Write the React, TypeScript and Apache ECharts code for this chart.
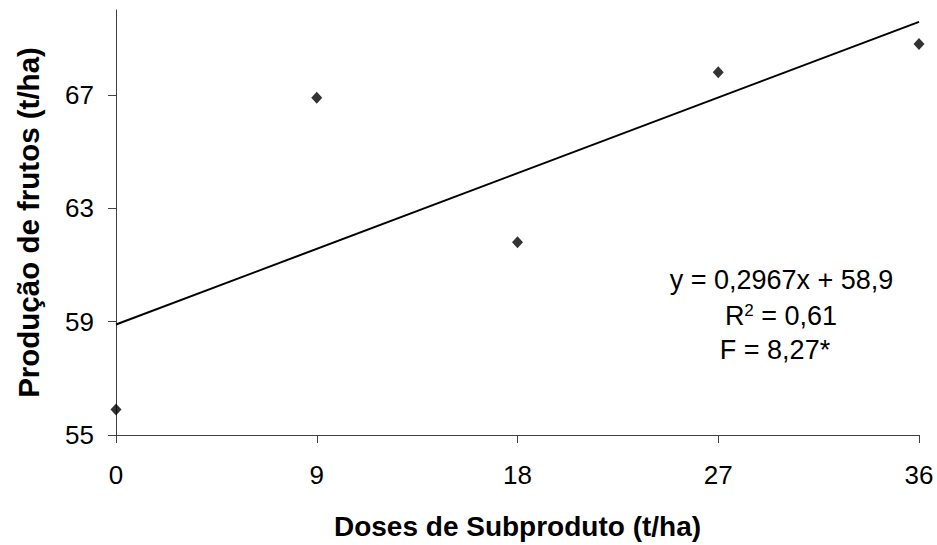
import React, { useEffect, useRef } from "react";
import * as echarts from "echarts";

const doses = [0, 9, 18, 27, 36];
const producao = [55.9, 66.9, 61.8, 67.8, 68.8];
const xTicks = [0, 9, 18, 27, 36];
const yTicks = [55, 59, 63, 67];
const slope = 0.2967;
const intercept = 58.9;
const trendX = [0, 36];
const eqLines = ["y = 0,2967x + 58,9", "R{sup|2} = 0,61", "F = 8,27*"];

const FONT = "'Liberation Sans', Arial, Helvetica, sans-serif";

export default function App() {
  const ref = useRef<HTMLDivElement>(null);
  useEffect(() => {
    if (!ref.current) return;
    const chart = echarts.init(ref.current, null, { renderer: "svg" });
    const trendData = trendX.map((x) => [x, +(intercept + slope * x).toFixed(3)]);
    const eqStyle = { fontFamily: FONT, fontSize: 27, fill: "#000", align: "center", verticalAlign: "middle" };
    chart.setOption({
      animation: false,
      backgroundColor: "#ffffff",
      textStyle: { fontFamily: FONT },
      grid: { left: 116, right: 18, top: 10, bottom: 107, containLabel: false },
      xAxis: {
        type: "value",
        min: 0,
        max: 36,
        interval: 9,
        name: "Doses de Subproduto (t/ha)",
        nameLocation: "middle",
        nameGap: 77,
        nameTextStyle: { fontFamily: FONT, fontSize: 28, fontWeight: "bold", color: "#000" },
        axisLine: { show: true, onZero: false, lineStyle: { color: "#404040", width: 1 } },
        axisTick: { show: true, inside: false, length: 8, lineStyle: { color: "#404040" }, customValues: xTicks },
        axisLabel: { fontFamily: FONT, fontSize: 26, color: "#000", margin: 27, customValues: xTicks },
        splitLine: { show: false },
      },
      yAxis: {
        type: "value",
        min: 55,
        max: 70,
        interval: 4,
        name: "Produção de frutos (t/ha)",
        nameLocation: "middle",
        nameGap: 73,
        nameRotate: 90,
        nameTextStyle: { fontFamily: FONT, fontSize: 29.5, fontWeight: "bold", color: "#000" },
        axisLine: { show: true, onZero: false, lineStyle: { color: "#404040", width: 1 } },
        axisTick: { show: true, inside: false, length: 8, lineStyle: { color: "#404040" }, customValues: yTicks },
        axisLabel: { fontFamily: FONT, fontSize: 26, color: "#000", margin: 22, customValues: yTicks },
        splitLine: { show: false },
      },
      series: [
        {
          type: "line",
          data: trendData,
          symbol: "none",
          lineStyle: { color: "#000", width: 2 },
          silent: true,
          z: 2,
        },
        {
          type: "scatter",
          data: doses.map((d, i) => [d, producao[i]]),
          symbol: "diamond",
          symbolSize: [11, 12],
          itemStyle: { color: "#000" },
          z: 3,
        },
      ],
      graphic: [
        {
          type: "text",
          x: 781.5,
          y: 280,
          style: { text: eqLines[0], ...eqStyle },
        },
        {
          type: "text",
          x: 781,
          y: 316,
          style: {
            text: eqLines[1],
            ...eqStyle,
            rich: {
              sup: { fontFamily: FONT, fontSize: 17, verticalAlign: "top", padding: [0, 0, 12, 0], fill: "#000" },
            },
          },
        },
        {
          type: "text",
          x: 775,
          y: 350,
          style: { text: eqLines[2], ...eqStyle },
        },
      ],
    });
    return () => chart.dispose();
  }, []);
  return (
    <div
      ref={ref}
      style={{ position: "fixed", left: 0, top: 0, width: 937, height: 545, background: "#fff" }}
    />
  );
}
